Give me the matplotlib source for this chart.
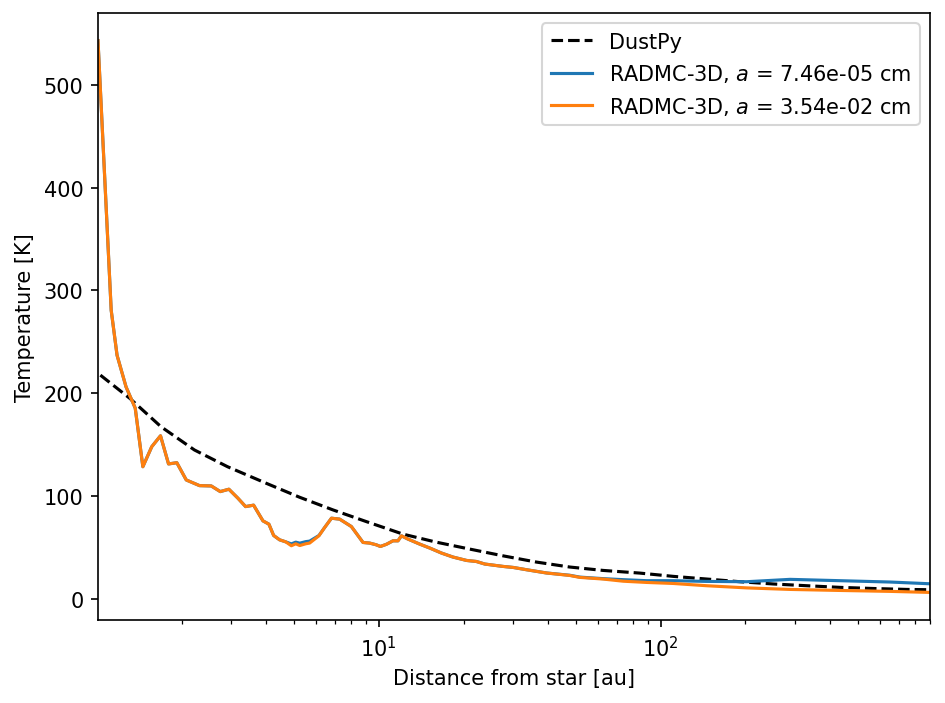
import matplotlib
matplotlib.use("Agg")
import matplotlib.pyplot as plt

# DustPy temperature profile (dashed)
r_dustpy = [1.03, 1.31, 1.69, 2.22, 2.91, 3.99, 5.24, 6.88, 9.04, 12.2, 16.0, 21.0,
            27.6, 36.3, 47.6, 62.5, 84.4, 111, 146, 191, 251, 330, 433, 569, 747, 903]
T_dustpy = [217.5, 194.9, 167.3, 144.7, 128.4, 112.3, 98.7, 86.4, 75.0, 62.8, 55.0, 48.3,
            41.7, 35.6, 30.8, 27.5, 24.9, 21.7, 19.1, 16.5, 14.3, 12.6, 11.0, 9.9, 9.0, 8.7]

# RADMC-3D radial grid
r_radmc = [1.01, 1.125, 1.18, 1.27, 1.369, 1.457, 1.567, 1.683, 1.797, 1.923, 2.077, 2.315,
           2.547, 2.742, 2.942, 3.166, 3.372, 3.6, 3.886, 4.08, 4.24, 4.45, 4.68, 4.90,
           5.08, 5.25, 5.51, 5.69, 6.14, 6.43, 6.80, 7.27, 8.0, 8.80, 9.29, 9.81, 10.14,
           10.65, 11.24, 11.71, 12.04, 12.7, 13.98, 15.2, 16.7, 18.35, 20.5, 22.2, 23.8,
           27.6, 30.0, 33.4, 39.4, 47.6, 51.7, 62.5, 73.7, 89.2, 110.9, 145.7, 202, 288,
           433, 652, 903]

# a = 3.54e-02 cm
T_large = [543, 280.6, 236.9, 206.1, 185.4, 128.4, 147.9, 158.5, 131.1, 132.3, 115.5, 110,
           109.7, 104.2, 106.5, 97.8, 89.6, 91.0, 75.7, 72.5, 61.5, 57.3, 55.3, 51.5,
           53.4, 51.7, 53.4, 54.1, 61.2, 69.2, 78.3, 77.4, 70.2, 54.7, 54.1, 52.4, 50.8,
           52.9, 56.3, 56.3, 61.2, 58.0, 53.1, 49.2, 44.4, 40.5, 37.2, 36.2, 33.7,
           31.4, 30.4, 28.2, 25.0, 22.6, 20.7, 19.1, 17.0, 15.8, 14.8, 12.6, 10.5, 9.0,
           8.0, 7.1, 6.1]

# a = 7.46e-05 cm
T_small = [543, 280.6, 236.9, 206.1, 185.4, 128.4, 147.9, 158.5, 131.1, 132.3, 115.5, 110,
           109.7, 104.2, 106.5, 97.8, 89.6, 91.0, 75.7, 72.5, 61.5, 57.3, 55.3, 53.3,
           55.0, 54.0, 55.5, 56.0, 61.5, 69.2, 78.3, 77.4, 70.2, 54.7, 54.1, 52.4, 50.8,
           52.9, 56.3, 56.3, 61.2, 58.0, 53.1, 49.2, 44.4, 40.5, 37.2, 36.2, 33.7,
           31.4, 30.4, 28.2, 25.0, 22.8, 21.0, 19.5, 18.5, 17.5, 17.5, 16.8, 16.5, 18.8,
           17.5, 16.2, 14.5]

labels = ["DustPy", "RADMC-3D, $a$ = 7.46e-05 cm", "RADMC-3D, $a$ = 3.54e-02 cm"]

fig = plt.figure(figsize=(6.3, 4.6933), dpi=150)
ax = fig.add_axes([0.1037, 0.1179, 0.8804, 0.8622])
ax.plot(r_dustpy, T_dustpy, "k--", label=labels[0])
ax.plot(r_radmc, T_small, color="C0", label=labels[1])
ax.plot(r_radmc, T_large, color="C1", label=labels[2])
ax.set_xscale("log")
ax.set_xlim(r_radmc[0], r_radmc[-1])
ax.set_xlabel("Distance from star [au]")
ax.set_ylabel("Temperature [K]")
ax.legend(loc="upper right")
fig.savefig("out.png", dpi=150)
